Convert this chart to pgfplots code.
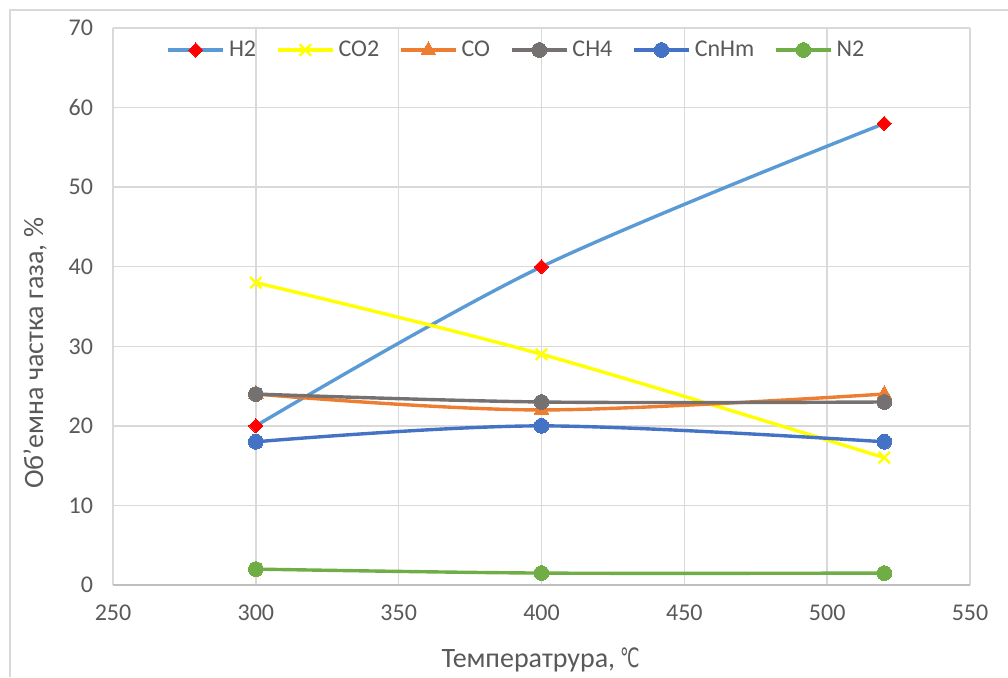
\documentclass[border=0pt]{standalone}
\usepackage{pgfplots}
\pgfplotsset{compat=1.18}
\usepackage{graphicx}
\usepackage{fontspec}
\setmainfont{Carlito}
\newfontfamily\symfont{DejaVu Sans}
\definecolor{txt}{HTML}{595959}
\definecolor{gridc}{HTML}{D9D9D9}
\definecolor{axisc}{HTML}{BFBFBF}
\definecolor{cH}{HTML}{5B9BD5}
\definecolor{cCOtwo}{HTML}{FFFF00}
\definecolor{cCO}{HTML}{ED7D31}
\definecolor{cCH}{HTML}{767171}
\definecolor{cCn}{HTML}{4472C4}
\definecolor{cN}{HTML}{70AD47}
\begin{document}
\begin{tikzpicture}
\useasboundingbox (-56.5pt,-46pt) rectangle (447.5pt,292.5pt);
% chart frame
\draw[gridc, line width=0.75pt] (-51.5pt,-46pt) -- (-51.5pt,287.5pt) -- (447.5pt,287.5pt);
\begin{axis}[
  at={(0,0)}, anchor=south west,
  scale only axis, width=428.5pt, height=278.5pt,
  xmin=250, xmax=550, ymin=0, ymax=70,
  xtick={250,300,...,550}, ytick={0,10,...,70},
  grid=major, grid style={gridc, line width=0.75pt},
  axis line style={draw=none},
  tick style={draw=none},
  ticklabel style={font=\fontsize{12}{13}\selectfont, text=txt},
  /pgf/number format/assume math mode=true,
  /pgf/number format/1000 sep={},
  yticklabel style={anchor=east, xshift=-6.5pt},
  xticklabel style={anchor=north, yshift=-6.5pt},
  xlabel={Температрура,\hspace{2.5pt}{\symfont\scalebox{0.62}[0.95]{℃}}},
  ylabel={Об\char"27 емна частка газа, \%},
  label style={font=\fontsize{14}{16}\selectfont, text=txt},
  xlabel style={at={(rel axis cs:0.499,0)}, anchor=center, yshift=-37.5pt},
  ylabel style={at={(rel axis cs:0,0.416)}, anchor=center, yshift=39pt},
  every axis plot/.append style={line width=1.7pt, smooth, tension=0.55},
  legend columns=6,
  legend style={draw=none, fill=none, at={(rel axis cs:0.472,1)}, anchor=center, yshift=-11pt,
    font=\fontsize{12}{13}\selectfont, text=txt,
    /tikz/every even column/.append style={column sep=8pt}},
  legend image code/.code={
    \draw[#1, mark repeat=2, mark phase=2] plot coordinates {(0pt,0pt) (13.75pt,0pt) (27.5pt,0pt)};
  },
]
% underlying axis line
\draw[axisc, line width=0.75pt] (rel axis cs:0,0) -- (rel axis cs:1,0);
\addplot[cH, mark=square*, mark size=2.5pt, mark options={fill=red, draw=red, line width=0pt, rotate=45}]
  coordinates {(300,20) (400,40) (520,58)};
\addlegendentry{H2}
\addplot[cCOtwo, mark=x, mark size=4pt, mark options={line width=1.2pt}]
  coordinates {(300,38) (400,29) (520,16)};
\addlegendentry{CO2}
\addplot[cCO, mark=triangle*, mark size=4.2pt, mark options={line width=0pt}]
  coordinates {(300,24) (400,22) (520,24)};
\addlegendentry{CO}
\addplot[cCH, mark=*, mark size=3.7pt, mark options={line width=0pt}]
  coordinates {(300,24) (400,23) (520,23)};
\addlegendentry{CH4}
\addplot[cCn, mark=*, mark size=3.7pt, mark options={line width=0pt}]
  coordinates {(300,18) (400,20) (520,18)};
\addlegendentry{CnHm}
\addplot[cN, mark=*, mark size=3.7pt, mark options={line width=0pt}]
  coordinates {(300,2) (400,1.5) (520,1.5)};
\addlegendentry{N2}
\end{axis}
\end{tikzpicture}
\end{document}
